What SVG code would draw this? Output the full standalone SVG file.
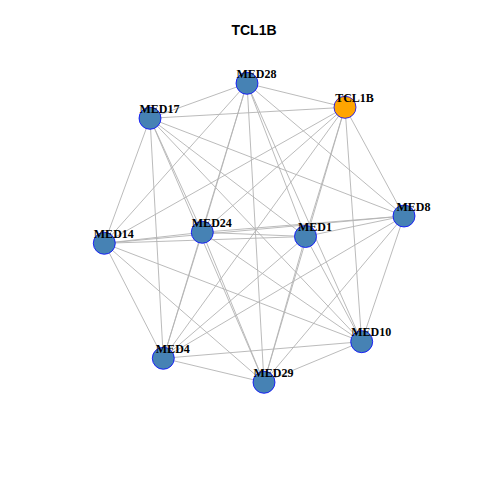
<svg xmlns="http://www.w3.org/2000/svg" width="480" height="480" viewBox="0 0 480 480">
<style>
.e{stroke:#b3b3b3;stroke-width:0.9;fill:none}
.n{fill:#4682B4;stroke:#0000FF;stroke-width:0.8}
.q{fill:#FFA500;stroke:#0000FF;stroke-width:0.8}
.l{font-family:"Liberation Serif","Times New Roman",serif;font-weight:bold;font-size:12px;fill:#000;text-anchor:middle}
.t{font-family:"Liberation Sans",Arial,sans-serif;font-weight:bold;font-size:14px;fill:#000;text-anchor:middle}
</style>
<rect width="480" height="480" fill="#fff"/>
<text class="t" x="254" y="35">TCL1B</text>
<g id="edges">
<line class="e" x1="247" y1="83.3" x2="345" y2="107.3"/>
<line class="e" x1="247" y1="83.3" x2="150" y2="118.3"/>
<line class="e" x1="247" y1="83.3" x2="404" y2="216"/>
<line class="e" x1="247" y1="83.3" x2="104.3" y2="243.3"/>
<line class="e" x1="247" y1="83.3" x2="202.3" y2="232.3"/>
<line class="e" x1="247" y1="83.3" x2="305.5" y2="236.5"/>
<line class="e" x1="247" y1="83.3" x2="361.7" y2="341.7"/>
<line class="e" x1="247" y1="83.3" x2="163.3" y2="358.3"/>
<line class="e" x1="247" y1="83.3" x2="264" y2="382.3"/>
<line class="e" x1="345" y1="107.3" x2="150" y2="118.3"/>
<line class="e" x1="345" y1="107.3" x2="404" y2="216"/>
<line class="e" x1="345" y1="107.3" x2="104.3" y2="243.3"/>
<line class="e" x1="345" y1="107.3" x2="202.3" y2="232.3"/>
<line class="e" x1="345" y1="107.3" x2="305.5" y2="236.5"/>
<line class="e" x1="345" y1="107.3" x2="361.7" y2="341.7"/>
<line class="e" x1="345" y1="107.3" x2="163.3" y2="358.3"/>
<line class="e" x1="345" y1="107.3" x2="264" y2="382.3"/>
<line class="e" x1="150" y1="118.3" x2="404" y2="216"/>
<line class="e" x1="150" y1="118.3" x2="104.3" y2="243.3"/>
<line class="e" x1="150" y1="118.3" x2="202.3" y2="232.3"/>
<line class="e" x1="150" y1="118.3" x2="305.5" y2="236.5"/>
<line class="e" x1="150" y1="118.3" x2="361.7" y2="341.7"/>
<line class="e" x1="150" y1="118.3" x2="163.3" y2="358.3"/>
<line class="e" x1="150" y1="118.3" x2="264" y2="382.3"/>
<line class="e" x1="404" y1="216" x2="104.3" y2="243.3"/>
<line class="e" x1="404" y1="216" x2="202.3" y2="232.3"/>
<line class="e" x1="404" y1="216" x2="305.5" y2="236.5"/>
<line class="e" x1="404" y1="216" x2="361.7" y2="341.7"/>
<line class="e" x1="404" y1="216" x2="163.3" y2="358.3"/>
<line class="e" x1="404" y1="216" x2="264" y2="382.3"/>
<line class="e" x1="104.3" y1="243.3" x2="202.3" y2="232.3"/>
<line class="e" x1="104.3" y1="243.3" x2="305.5" y2="236.5"/>
<line class="e" x1="104.3" y1="243.3" x2="361.7" y2="341.7"/>
<line class="e" x1="104.3" y1="243.3" x2="163.3" y2="358.3"/>
<line class="e" x1="104.3" y1="243.3" x2="264" y2="382.3"/>
<line class="e" x1="202.3" y1="232.3" x2="305.5" y2="236.5"/>
<line class="e" x1="202.3" y1="232.3" x2="361.7" y2="341.7"/>
<line class="e" x1="202.3" y1="232.3" x2="163.3" y2="358.3"/>
<line class="e" x1="202.3" y1="232.3" x2="264" y2="382.3"/>
<line class="e" x1="305.5" y1="236.5" x2="361.7" y2="341.7"/>
<line class="e" x1="305.5" y1="236.5" x2="163.3" y2="358.3"/>
<line class="e" x1="305.5" y1="236.5" x2="264" y2="382.3"/>
<line class="e" x1="361.7" y1="341.7" x2="163.3" y2="358.3"/>
<line class="e" x1="361.7" y1="341.7" x2="264" y2="382.3"/>
<line class="e" x1="163.3" y1="358.3" x2="264" y2="382.3"/>
</g>
<g id="MED28"><circle class="n" cx="247" cy="83.3" r="11"/><text class="l" x="256.5" y="77.5">MED28</text></g>
<g id="TCL1B"><circle class="q" cx="345" cy="107.3" r="11"/><text class="l" x="354.5" y="101.5">TCL1B</text></g>
<g id="MED17"><circle class="n" cx="150" cy="118.3" r="11"/><text class="l" x="159.5" y="112.5">MED17</text></g>
<g id="MED8"><circle class="n" cx="404" cy="216" r="11"/><text class="l" x="413.5" y="211">MED8</text></g>
<g id="MED14"><circle class="n" cx="104.3" cy="243.3" r="11"/><text class="l" x="113.8" y="237.5">MED14</text></g>
<g id="MED24"><circle class="n" cx="202.3" cy="232.3" r="11"/><text class="l" x="211.8" y="226.5">MED24</text></g>
<g id="MED1"><circle class="n" cx="305.5" cy="236.5" r="11"/><text class="l" x="315" y="230.7">MED1</text></g>
<g id="MED10"><circle class="n" cx="361.7" cy="341.7" r="11"/><text class="l" x="371.2" y="335.9">MED10</text></g>
<g id="MED4"><circle class="n" cx="163.3" cy="358.3" r="11"/><text class="l" x="172.8" y="352.5">MED4</text></g>
<g id="MED29"><circle class="n" cx="264" cy="382.3" r="11"/><text class="l" x="273.5" y="376.5">MED29</text></g>
</svg>
